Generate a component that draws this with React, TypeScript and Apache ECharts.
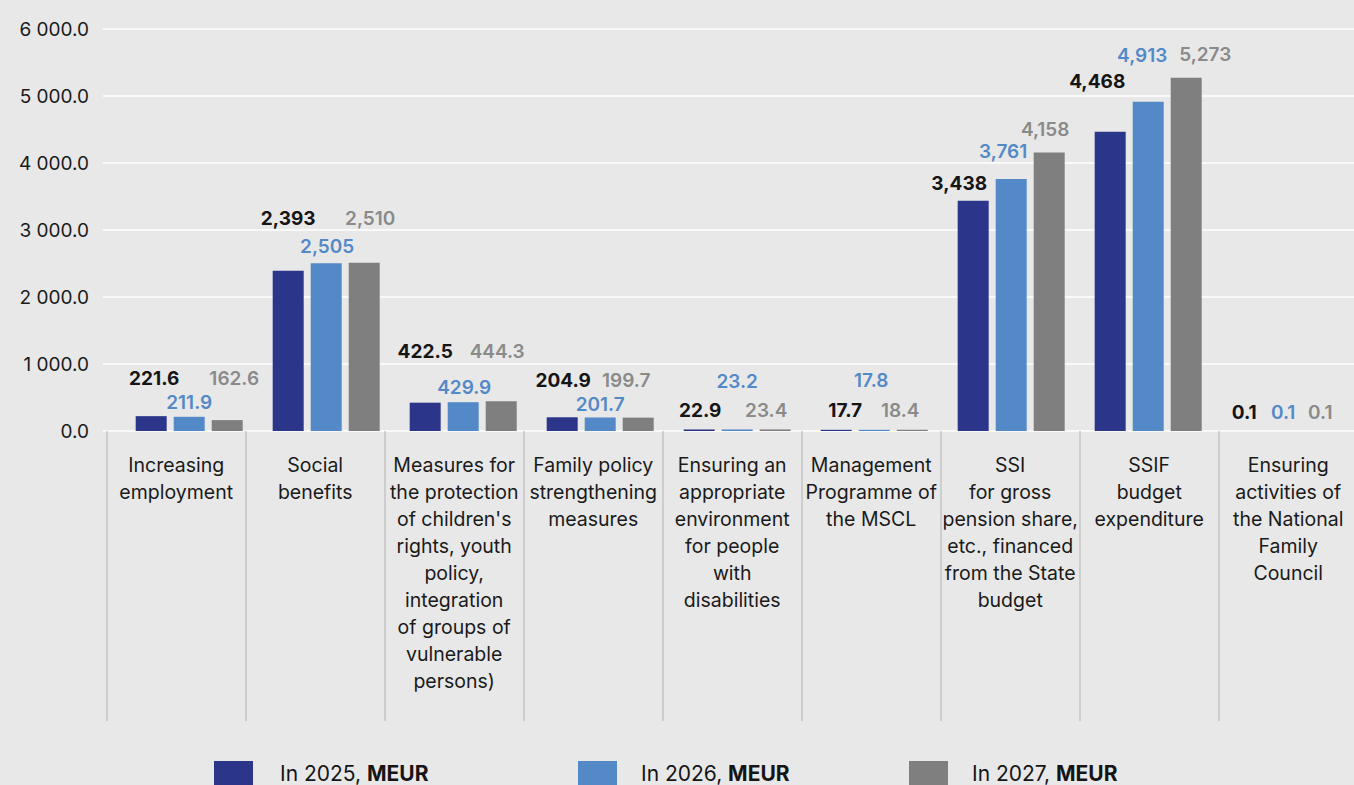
import React, { useEffect, useRef } from "react";
import * as echarts from "echarts";

const categories = [
  "Increasing\nemployment",
  "Social\nbenefits",
  "Measures for\nthe protection\nof children's\nrights, youth\npolicy,\nintegration\nof groups of\nvulnerable\npersons)",
  "Family policy\nstrengthening\nmeasures",
  "Ensuring an\nappropriate\nenvironment\nfor people\nwith\ndisabilities",
  "Management\nProgramme of\nthe MSCL",
  "SSI\nfor gross\npension share,\netc., financed\nfrom the State\nbudget",
  "SSIF\nbudget\nexpenditure",
  "Ensuring\nactivities of\nthe National\nFamily\nCouncil",
];

const seriesNames = ["In 2025", "In 2026", "In 2027"];
const values2025 = [221.6, 2393, 422.5, 204.9, 22.9, 17.7, 3438, 4468, 0.1];
const values2026 = [211.9, 2505, 429.9, 201.7, 23.2, 17.8, 3761, 4913, 0.1];
const values2027 = [162.6, 2510, 444.3, 199.7, 23.4, 18.4, 4158, 5273, 0.1];

const yTicks = { min: 0, max: 6000, interval: 1000 };

// label nudges (style only), [dx, dy] in px
const labelShift2025 = [[3, -23], [0, -38], [0, -37], [1, -22], [1, -4.5], [9, -5], [-14, -3], [-13, -36], [-3, -4]];
const labelShift2026 = [[0, 0], [1, -2], [1, 0], [0, 1.5], [0, -33.5], [-3, -35], [-8, -13], [-6, -32], [-2, -4]];
const labelShift2027 = [[7, -27], [6, -30], [-4, -35], [-12, -23], [-9, -4.5], [-12, -5], [-4, -8], [19, -9], [-3, -4]];

const FONT = "Inter, 'Noto Sans', sans-serif";
const colors = ["#2b3589", "#5489c8", "#7f7f7f"];
const labelColors = ["#151515", "#5489c8", "#8a8a8a"];
const labelWeights = ["bold", 600, 600];

function fmtValue(v: number) {
  if (v >= 1000) return Math.round(v).toLocaleString("en-US");
  return v.toFixed(1);
}
function fmtAxis(v: number) {
  const s = v.toFixed(1);
  const [i, d] = s.split(".");
  return i.replace(/\B(?=(\d{3})+(?!\d))/g, " ") + "." + d;
}

export default function App() {
  const ref = useRef<HTMLDivElement>(null);
  useEffect(() => {
    document.body.style.margin = "0";
    document.body.style.overflow = "hidden";
    const chart = echarts.init(ref.current!, null, { renderer: "svg" });
    const all = [values2025, values2026, values2027];
    const shifts = [labelShift2025, labelShift2026, labelShift2027];
    const series = all.map((vals, si) => ({
      name: seriesNames[si],
      type: "bar",
      xAxisIndex: 1,
      yAxisIndex: 1,
      barWidth: 31,
      barGap: "22.6%",
      itemStyle: { color: colors[si] },
      label: {
        show: true,
        position: "top",
        distance: 5,
        fontFamily: FONT,
        fontSize: 19,
        fontWeight: labelWeights[si],
        color: labelColors[si],
        formatter: (p: any) => fmtValue(p.value),
      },
      data: vals.map((v, i) => ({
        value: v,
        label: { offset: shifts[si][i] },
      })),
    }));

    const legends = seriesNames.map((n, i) => ({
      data: [n],
      left: [209, 573, 904][i],
      top: 756,
      itemWidth: 39,
      itemHeight: 24,
      icon: "rect",
      selectedMode: false,
      formatter: (name: string) => `{s|}{a|${name}, }{b|MEUR}`,
      textStyle: {
        fontFamily: FONT,
        fontSize: 21,
        color: "#151515",
        rich: {
          s: { width: i === 0 ? 22 : 19 },
          a: { fontFamily: FONT, fontSize: 21, color: "#151515" },
          b: { fontFamily: FONT, fontSize: 21, fontWeight: "bold", color: "#151515" },
        },
      },
    }));

    chart.setOption({
      animation: false,
      backgroundColor: "#e8e8e8",
      textStyle: { fontFamily: FONT },
      legend: legends,
      grid: [
        { left: 103, top: 29, width: 1259, height: 402 },
        { left: 120.7, top: 29, width: 1233, height: 402 },
        { left: 106.7, top: 29, width: 1251, height: 402 },
      ],
      xAxis: [
        { gridIndex: 0, type: "category", data: categories, show: false },
        { gridIndex: 1, type: "category", data: categories, show: false },
        {
          gridIndex: 2,
          type: "category",
          data: categories,
          axisLine: { show: false },
          axisTick: { show: true, length: 290, lineStyle: { color: "#c4c4c4", width: 1.5 } },
          axisLabel: {
            interval: 0,
            margin: 20,
            fontFamily: FONT,
            fontSize: 19.5,
            lineHeight: 27,
            color: "#1a1a1a",
            align: "center",
          },
        },
      ],
      yAxis: [
        {
          gridIndex: 0,
          type: "value",
          ...yTicks,
          axisLine: { show: false },
          axisTick: { show: false },
          axisLabel: { margin: 14, fontFamily: FONT, fontSize: 19, color: "#1a1a1a", formatter: fmtAxis },
          splitLine: { lineStyle: { color: "#ffffff", width: 1.5 } },
        },
        { gridIndex: 1, type: "value", ...yTicks, show: false },
        { gridIndex: 2, type: "value", ...yTicks, show: false },
      ],
      series,
    });
    return () => chart.dispose();
  }, []);
  return <div ref={ref} style={{ width: 1362, height: 785 }} />;
}
